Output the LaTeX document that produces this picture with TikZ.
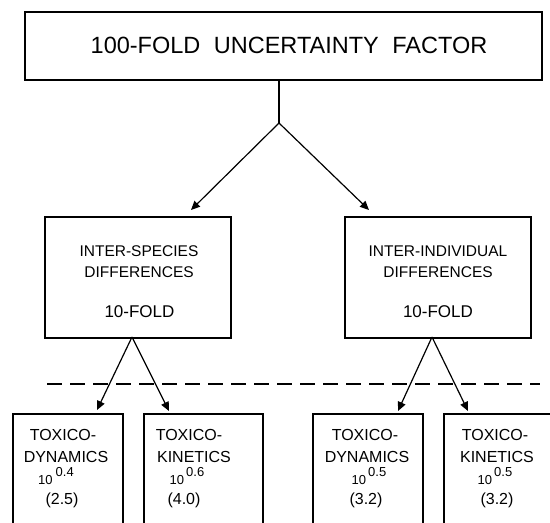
\documentclass[tikz,border=0pt]{standalone}
\usepackage{fontspec}
\setmainfont{Liberation Sans}
\usetikzlibrary{arrows.meta}
\begin{document}
\begin{tikzpicture}[x=1pt,y=-1pt,
  box/.style={draw, line width=1.7pt, inner sep=0pt},
  conn/.style={line width=1.2pt, -{Triangle[length=9pt,width=8pt]}},
  plainline/.style={line width=1.7pt},
  dashline/.style={line width=1.4pt, dash pattern=on 15pt off 8pt},
  titletxt/.style={anchor=base, inner sep=0pt, font=\fontsize{23.5}{26}\selectfont},
  midtxt/.style={anchor=base, inner sep=0pt, font=\fontsize{15.5}{18}\selectfont},
  foldtxt/.style={anchor=base, inner sep=0pt, font=\fontsize{17}{20}\selectfont},
  lowtxt/.style={anchor=base, inner sep=0pt, font=\fontsize{16}{19}\selectfont},
  exptxt/.style={anchor=base, inner sep=0pt, font=\fontsize{13}{15}\selectfont}]
\useasboundingbox (0,0) rectangle (550,523);
\clip (0,0) rectangle (550,523);
\fill[white] (0,0) rectangle (550,523);

% top box
\node[box, minimum width=517pt, minimum height=68pt] (top) at (283.5,46) {};
\node[titletxt] (title) at (289,53) {100-FOLD\hspace{7pt} UNCERTAINTY\hspace{7pt} FACTOR};

% middle boxes
\node[box, minimum width=186pt, minimum height=121pt, anchor=north west] (mL) at (44,216) {};
\node[box, minimum width=186pt, minimum height=121pt, anchor=north west] (mR) at (344,216) {};
\node[midtxt] (mLa) at (139,256) {INTER-SPECIES};
\node[midtxt] (mLb) at (139,277) {DIFFERENCES};
\node[foldtxt] (mLc) at (139.5,317) {10-FOLD};
\node[midtxt] (mRa) at (438,256) {INTER-INDIVIDUAL};
\node[midtxt] (mRb) at (438,277) {DIFFERENCES};
\node[foldtxt] (mRc) at (438,317) {10-FOLD};

% bottom boxes (open at bottom / right edge)
\node[box, minimum width=110pt, minimum height=140pt, anchor=north west] (b1) at (12,413) {};
\node[box, minimum width=119pt, minimum height=140pt, anchor=north west] (b2) at (143,413) {};
\node[box, minimum width=110pt, minimum height=140pt, anchor=north west] (b3) at (312,413) {};
\node[box, minimum width=150pt, minimum height=140pt, anchor=north west] (b4) at (443,413) {};

\node[lowtxt] (b1a) at (63,440) {TOXICO-};
\node[lowtxt] (b1b) at (66,462) {DYNAMICS};
\node[exptxt] (b1c) at (56,484) {10\kern3pt\raisebox{8pt}{0.4}};
\node[lowtxt] (b1d) at (62,504) {(2.5)};

\node[lowtxt] (b2a) at (189,440) {TOXICO-};
\node[lowtxt] (b2b) at (194,462) {KINETICS};
\node[exptxt] (b2c) at (187,484) {10\kern2pt\raisebox{8pt}{0.6}};
\node[lowtxt] (b2d) at (184,504) {(4.0)};

\node[lowtxt] (b3a) at (365,440) {TOXICO-};
\node[lowtxt] (b3b) at (367,462) {DYNAMICS};
\node[exptxt] (b3c) at (369,484) {10\kern2pt\raisebox{8pt}{0.5}};
\node[lowtxt] (b3d) at (366,504) {(3.2)};

\node[lowtxt] (b4a) at (495,440) {TOXICO-};
\node[lowtxt] (b4b) at (497,462) {KINETICS};
\node[exptxt] (b4c) at (495,484) {10\kern2pt\raisebox{8pt}{0.5}};
\node[lowtxt] (b4d) at (497,504) {(3.2)};

% connectors
\coordinate (j) at (279,123);
\coordinate (tL) at (191,210);
\coordinate (tR) at (369,210);
\draw[plainline] (j |- top.south) -- (j);
\draw[conn] (j) -- (tL);
\draw[conn] (j) -- (tR);

\coordinate (ja) at (132,337);
\coordinate (t1) at (97,410);
\coordinate (t2) at (169,411);
\draw[conn] (ja) -- (t1);
\draw[conn] (ja) -- (t2);

\coordinate (jb) at (432,337);
\coordinate (t3) at (398,411);
\coordinate (t4) at (468,411);
\draw[conn] (jb) -- (t3);
\draw[conn] (jb) -- (t4);

% dashed separator
\coordinate (dA) at (47,384);
\coordinate (dB) at (540,384);
\draw[dashline] (dA) -- (dB);
\end{tikzpicture}
\end{document}
